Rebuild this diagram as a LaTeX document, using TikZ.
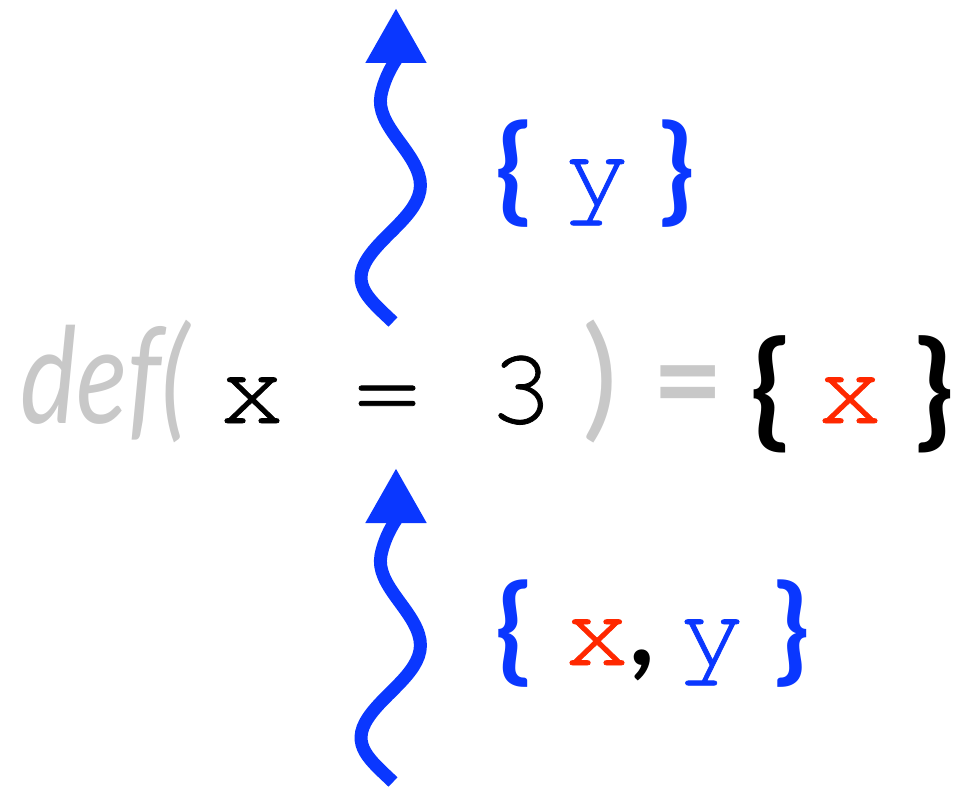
\documentclass[tikz,border=0pt]{standalone}
\usepackage{fontspec}
\setmainfont{Lato}
\newfontfamily\codefont[FakeBold=0.7]{TeX Gyre Cursor}
\newfontfamily\deffont[FakeStretch=0.8]{Lato}
\usetikzlibrary{arrows.meta}
\definecolor{blue}{RGB}{10,55,255}
\definecolor{red}{RGB}{255,40,0}
\definecolor{grey}{RGB}{200,200,200}

\begin{document}
\begin{tikzpicture}[x=0.02cm, y=-0.02cm,
  code/.style={font=\codefont\fontsize{62}{62}\selectfont, inner sep=0pt, anchor=base},
  sans/.style={font=\fontsize{76}{76}\selectfont, inner sep=0pt, anchor=base},
  brace/.style={font=\bfseries\fontsize{72}{72}\selectfont, inner sep=0pt, anchor=base},
  smallbrace/.style={font=\bfseries\fontsize{66}{66}\selectfont, inner sep=0pt, anchor=base},
  wiggle/.style={blue, line width=7.4pt, line cap=butt,
    -{Triangle[length=1.1cm, width=1.15cm]}}]

\useasboundingbox (0,0) rectangle (973,789);

%---------------------------------------
% Main line: def( x = 3 ) = { x }
%---------------------------------------
\def\base{423}
\node[sans, grey, anchor=base west, font=\deffont\itshape\fontsize{76}{76}\selectfont] (def) at (20,\base) {def(};
\node[code] (xarg) at (252,\base) {x};
\node[code] (eq) at (387,\base) {=};
\node[code] (three) at (521,\base) {3};
\node[sans, grey] (close) at (600,\base) {)};
\node[sans, grey, font=\bfseries\fontsize{70}{70}\selectfont] (eqdef) at (688,\base) {=};
\node[brace] (lbr) at (770,\base+10) {\{};
\node[code, red] (xout) at (850,\base) {x};
\node[brace] (rbr) at (935,\base+10) {\}};

%---------------------------------------
% Top label: { y }
%---------------------------------------
\def\topbase{205}
\node[smallbrace, blue] (tlbr) at (513,\topbase+4) {\{};
\node[code, blue] (ty) at (597,\topbase) {y};
\node[smallbrace, blue] (trbr) at (677,\topbase+4) {\}};

%---------------------------------------
% Bottom label: { x, y }
%---------------------------------------
\def\botbase{665}
\node[smallbrace, blue] (blbr) at (513,\botbase+4) {\{};
\node[code, red] (bx) at (597,\botbase) {x};
\node[sans, font=\bfseries\fontsize{62}{62}\selectfont] (comma) at (642,\botbase) {,};
\node[code, blue] (by) at (712,\botbase) {y};
\node[smallbrace, blue] (brbr) at (792,\botbase+4) {\}};

%---------------------------------------
% Wiggly arrows
%---------------------------------------
\coordinate (topstart) at (393,322);
\coordinate (toptip) at (396,8);
\draw[wiggle] (topstart) .. controls (370,300) and (350,285) .. (368,258)
  .. controls (385,232) and (425,210) .. (420,180)
  .. controls (415,150) and (375,125) .. (381,95)
  .. controls (385,75) and (396,60) .. (toptip);

\coordinate (botstart) at (393,782);
\coordinate (bottip) at (396,468);
\draw[wiggle] (botstart) .. controls (370,760) and (350,745) .. (368,718)
  .. controls (385,692) and (425,670) .. (420,640)
  .. controls (415,610) and (375,585) .. (381,555)
  .. controls (385,535) and (396,520) .. (bottip);

\end{tikzpicture}
\end{document}
